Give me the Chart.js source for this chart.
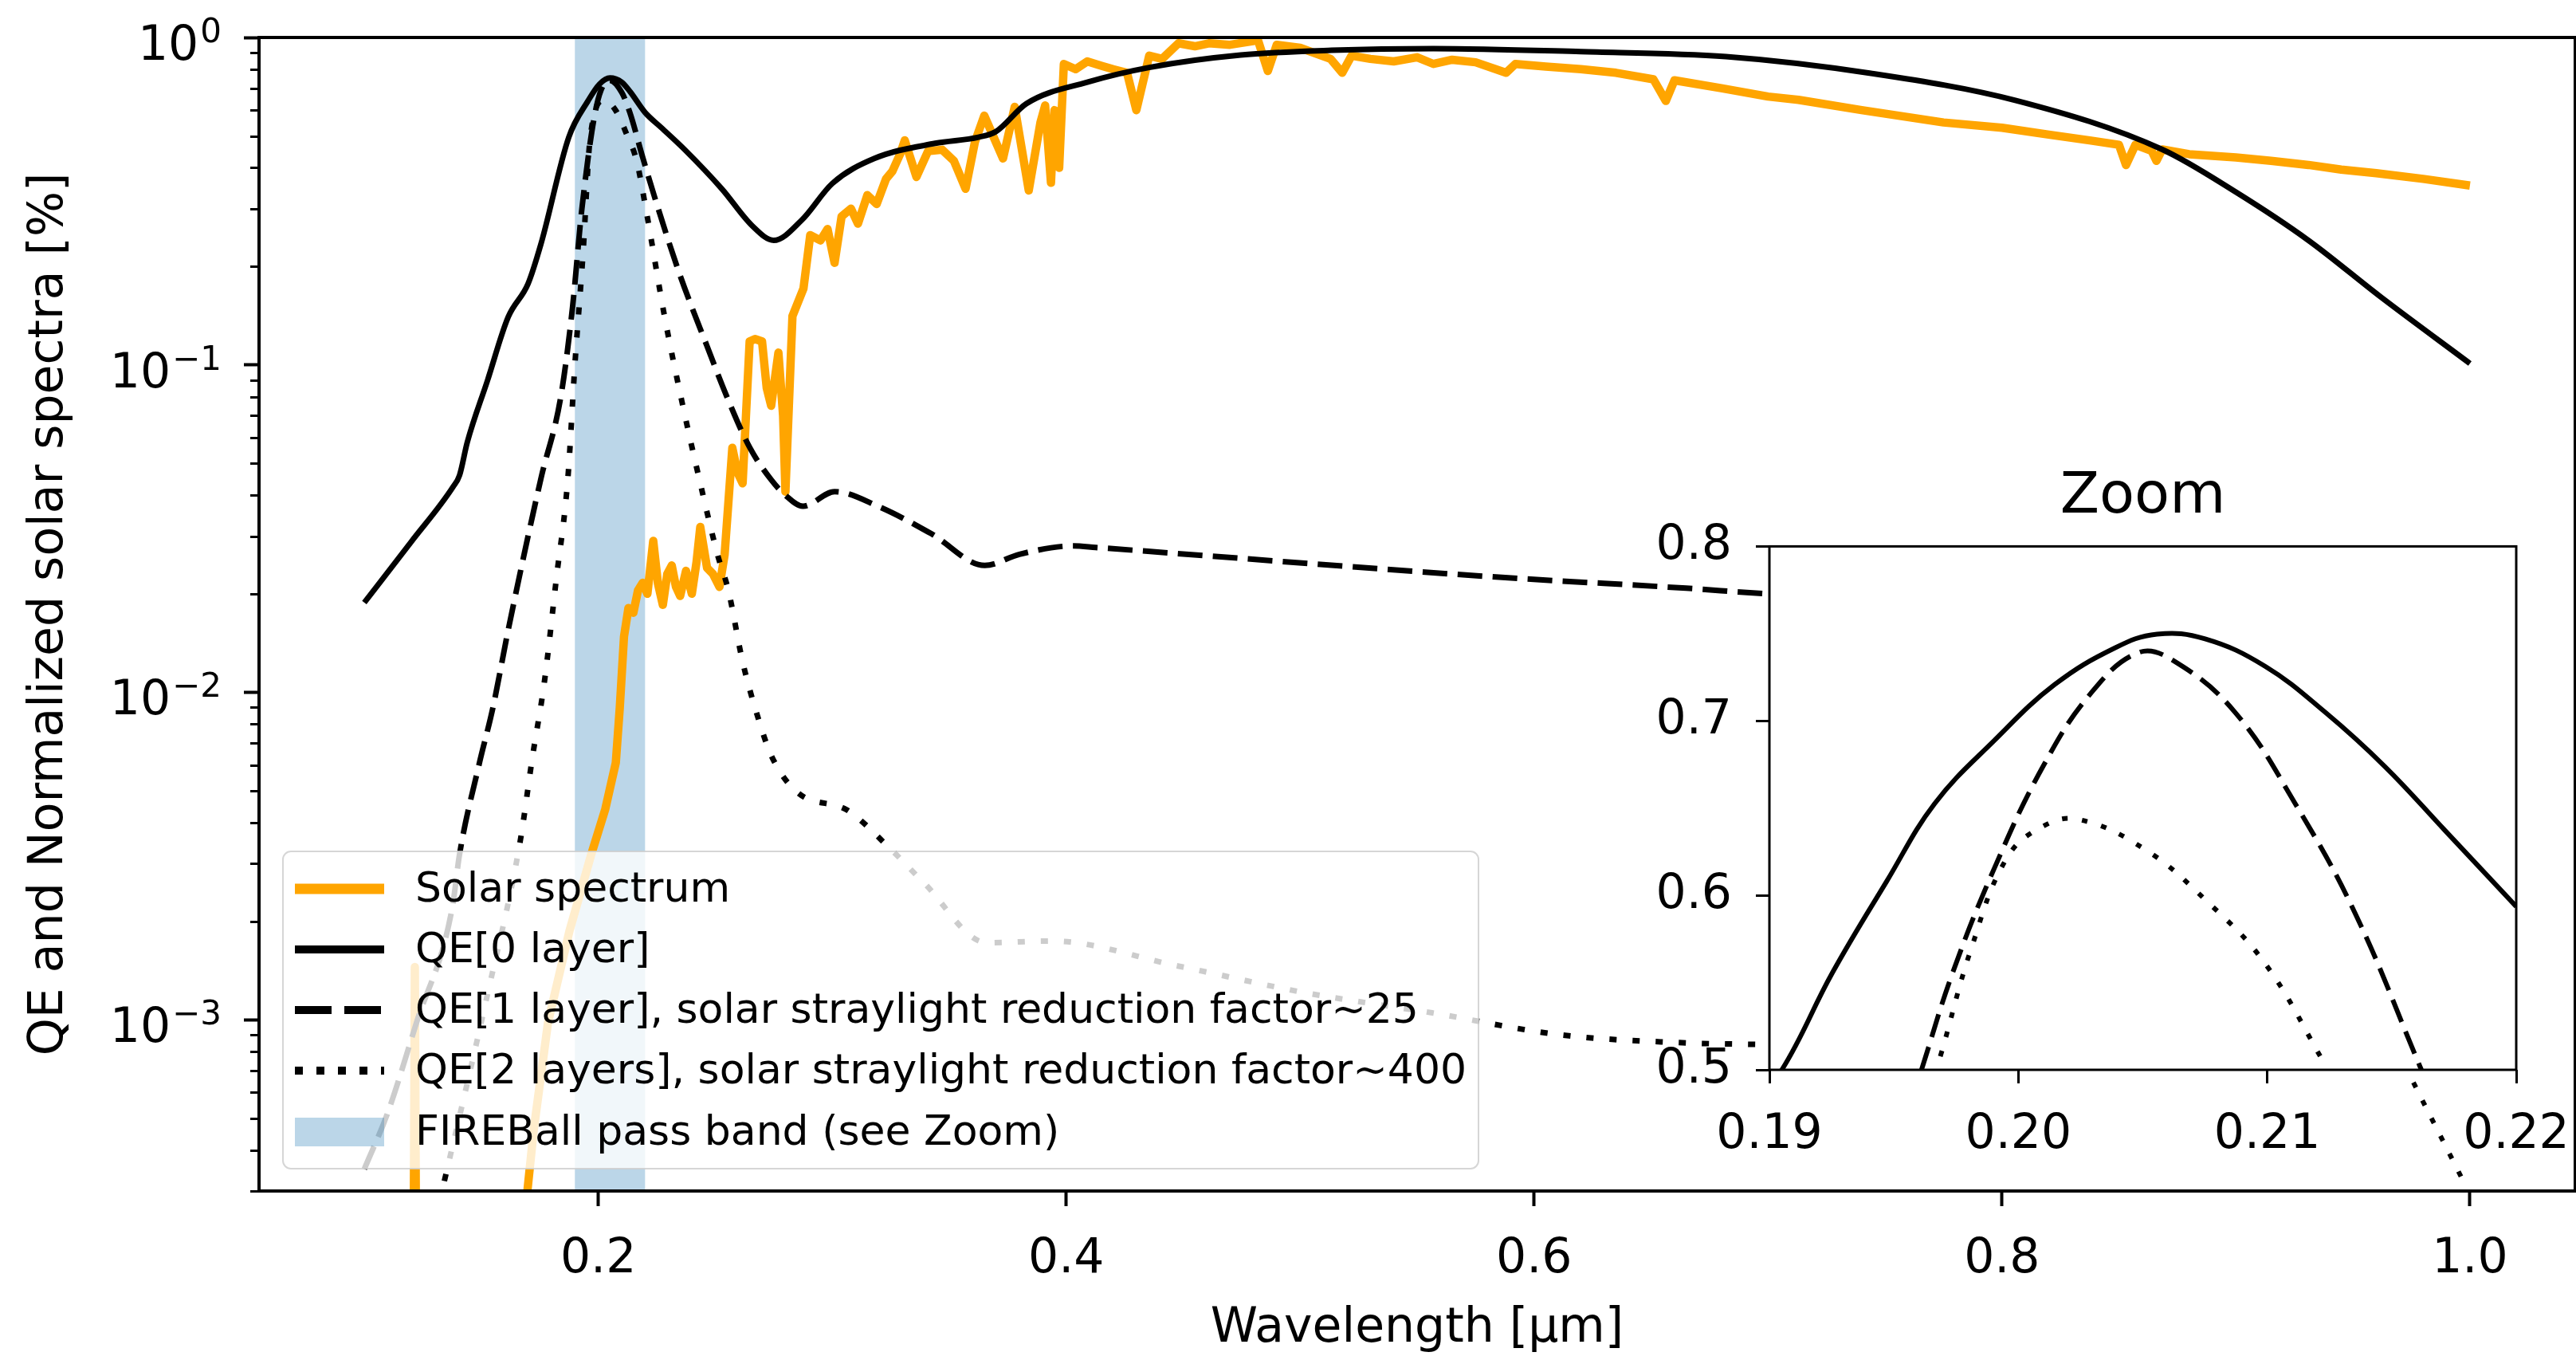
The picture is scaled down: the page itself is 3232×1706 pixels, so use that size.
<!DOCTYPE html>
<html><head><meta charset="utf-8">
<script src="https://cdn.jsdelivr.net/npm/chart.js@4.4.1/dist/chart.umd.min.js"></script>
<style>
html,body{margin:0;padding:0;background:#fff;overflow:hidden;width:3232px;height:1706px;}
#main{position:absolute;left:0;top:0;width:3232px;height:1706px;}
#inset{position:absolute;left:2040px;top:540px;width:1297px;height:950px;}
</style></head><body>
<canvas id="main" width="3232" height="1706"></canvas>
<canvas id="inset" width="1297" height="950"></canvas>
<script>
// ---------------- data ----------------
const solarWl = [0.100,0.1195,0.1211,0.1216,0.1221,0.1237,0.150,0.165,0.1697,0.1724,0.1785,0.1877,0.197,0.203,0.2075,0.2092,0.2110,0.2129,0.2150,0.2170,0.2190,0.2210,0.2235,0.2255,0.2276,0.2295,0.2314,0.2332,0.2350,0.2375,0.2400,0.2420,0.2436,0.2465,0.2490,0.2518,0.2540,0.2573,0.2595,0.2617,0.2647,0.2670,0.2700,0.2720,0.2739,0.2770,0.2790,0.2800,0.2830,0.2877,0.2906,0.2950,0.2980,0.3010,0.3040,0.3080,0.3110,0.3150,0.3190,0.3230,0.3257,0.3290,0.3310,0.3360,0.3410,0.3470,0.3520,0.3570,0.3610,0.3650,0.3730,0.3780,0.3840,0.3890,0.3910,0.3935,0.3950,0.3970,0.3990,0.4040,0.4090,0.4150,0.4200,0.4260,0.4300,0.4355,0.4410,0.4480,0.4550,0.4610,0.4700,0.4820,0.4862,0.4900,0.5000,0.5130,0.5180,0.5220,0.5300,0.5400,0.5500,0.5570,0.5650,0.5750,0.5880,0.5920,0.6050,0.6200,0.6350,0.6510,0.6563,0.6600,0.6800,0.7000,0.7130,0.7400,0.7750,0.8000,0.8200,0.8375,0.8500,0.8530,0.8570,0.8640,0.8660,0.8685,0.8800,0.9000,0.9150,0.9310,0.9450,0.9600,0.9800,1.0000];
const solarVal = [1e-6,1e-6,2e-4,1.45e-3,2e-4,1e-6,1e-6,1.5e-4,3.0e-4,4.6e-4,9.8e-4,1.87e-3,3.2e-3,4.4e-3,6.1e-3,9.0e-3,0.0148,0.0181,0.0175,0.0205,0.0216,0.0200,0.0290,0.0215,0.0185,0.0230,0.0244,0.0210,0.0197,0.0235,0.0200,0.0250,0.0320,0.0240,0.0230,0.0210,0.0263,0.0558,0.0470,0.0435,0.1180,0.1200,0.1180,0.0850,0.0750,0.1090,0.0700,0.0410,0.1410,0.1710,0.2490,0.2400,0.2600,0.2050,0.2840,0.3000,0.2700,0.3300,0.3100,0.3700,0.3900,0.4400,0.4850,0.3750,0.4500,0.4540,0.4200,0.3450,0.4800,0.5770,0.4270,0.6140,0.3410,0.5500,0.6200,0.3600,0.6000,0.4000,0.8300,0.8000,0.8450,0.8200,0.8000,0.7800,0.6000,0.8800,0.8600,0.9600,0.9400,0.9600,0.9500,0.9800,0.7900,0.9500,0.9300,0.8600,0.7800,0.8800,0.8600,0.8450,0.8700,0.8300,0.8550,0.8400,0.7800,0.8300,0.8150,0.8000,0.7800,0.7450,0.6400,0.7400,0.7000,0.6600,0.6450,0.6000,0.5500,0.5300,0.5050,0.4850,0.4700,0.4080,0.4700,0.4500,0.4200,0.4550,0.4400,0.4300,0.4200,0.4080,0.3950,0.3850,0.3700,0.3530];

const qe0Wl  = [0.100,0.120,0.138,0.1407,0.144,0.1526,0.1615,0.170,0.1755,0.1874,0.1956,0.2005,0.2050,0.2100,0.2136,0.2200,0.2270,0.2370,0.2528,0.2658,0.2750,0.2870,0.3000,0.3180,0.3440,0.3625,0.3700,0.3830,0.4090,0.4355,0.4746,0.5135,0.5570,0.6200,0.6820,0.7440,0.8060,0.8685,0.9000,0.9310,0.9620,1.0000];
const qe0Val = [0.0188,0.0288,0.0425,0.046,0.058,0.0894,0.140,0.177,0.234,0.496,0.640,0.720,0.752,0.730,0.683,0.590,0.530,0.454,0.345,0.266,0.240,0.277,0.358,0.427,0.475,0.496,0.516,0.628,0.730,0.810,0.884,0.914,0.925,0.905,0.874,0.777,0.642,0.455,0.337,0.240,0.161,0.101];

const qe1Wl  = [0.100,0.110,0.1223,0.1376,0.1407,0.149,0.155,0.1615,0.1755,0.184,0.189,0.193,0.1993,0.2048,0.2100,0.2135,0.2190,0.2250,0.2347,0.2463,0.2556,0.2647,0.2740,0.2800,0.2875,0.3010,0.3196,0.3424,0.3652,0.3800,0.4030,0.4126,0.5020,0.5837,0.6650,0.7000,0.7600];
const qe1Val = [3.5e-4,5.2e-4,9.8e-4,2.2e-3,3.2e-3,6.0e-3,9.0e-3,0.0155,0.045,0.080,0.150,0.300,0.620,0.740,0.680,0.590,0.430,0.310,0.190,0.115,0.078,0.056,0.0445,0.0400,0.0370,0.0410,0.0370,0.0305,0.0244,0.0264,0.0280,0.0277,0.0248,0.0225,0.0208,0.0200,0.0193];

const qe2Wl  = [0.100,0.120,0.135,0.1527,0.1666,0.1718,0.177,0.182,0.187,0.190,0.1935,0.1965,0.2025,0.2075,0.2123,0.2164,0.2207,0.2283,0.2358,0.2436,0.2510,0.2556,0.2617,0.2680,0.2740,0.2848,0.3066,0.3230,0.3390,0.3660,0.3935,0.4477,0.5020,0.5564,0.6110,0.6650,0.7000,0.7600];
const qe2Val = [3e-5,1.2e-4,3.4e-4,1.2e-3,3.5e-3,6.3e-3,0.0108,0.022,0.045,0.100,0.220,0.490,0.643,0.598,0.503,0.420,0.290,0.141,0.077,0.0435,0.0263,0.0205,0.0124,0.0085,0.0064,0.00497,0.00436,0.00343,0.00263,0.00172,0.00174,0.00146,0.00121,0.00105,0.00090,0.00085,0.00084,0.00082];

const passBand = [0.19, 0.22];

const zoomQe0Wl  = [0.1900,0.1905,0.19253,0.19471,0.19664,0.19905,0.20146,0.20388,0.20557,0.2075,0.20991,0.21232,0.21474,0.21715,0.2200];
const zoomQe0Val = [0.4975,0.5000,0.5556,0.6080,0.6526,0.6890,0.7208,0.7418,0.7497,0.7470,0.7313,0.7050,0.6736,0.6370,0.5936];
const zoomQe1Wl  = [0.19611,0.19736,0.19905,0.20098,0.2029,0.20484,0.20629,0.2087,0.21112,0.21353,0.21619];
const zoomQe1Val = [0.5000,0.5556,0.6160,0.6736,0.7156,0.7392,0.7340,0.7050,0.6526,0.5897,0.5000];
const zoomQe2Wl  = [0.1966,0.19688,0.19809,0.19953,0.20098,0.20243,0.20508,0.2075,0.20991,0.21232];
const zoomQe2Val = [0.4970,0.5084,0.5687,0.6212,0.6395,0.6435,0.6264,0.5976,0.5610,0.5031];
const zoomSpillWl  = [0.21587,0.21801];
const zoomSpillVal = [0.4927,0.4324];

const xTickValues = [0.2,0.4,0.6,0.8,1.0];
const yTickValues = [1e-3,1e-2,1e-1,1];
const yTickExponents = ['\u22123','\u22122','\u22121','0'];
const zoomXTicks = [0.19,0.20,0.21,0.22];
const zoomYTicks = [0.5,0.6,0.7,0.8];

const seriesLabels = ['Solar spectrum','QE[0 layer]','QE[1 layer], solar straylight reduction factor~25','QE[2 layers], solar straylight reduction factor~400'];
const bandLabel = 'FIREBall pass band (see Zoom)';

// ---------------- styles ----------------
const FONT = 'DejaVu Sans';
const ORANGE = '#FFA500';
const BAND = 'rgba(31,119,180,0.3)';
Chart.defaults.font.family = FONT;
Chart.defaults.color = '#000';

const toXY = (xs, ys) => xs.map((x, i) => ({x: x, y: ys[i]}));

// --------------- main chart plugins --------------
const bandPlugin = {
  id: 'band',
  beforeDatasetsDraw(chart) {
    const {ctx, chartArea: a, scales: {x}} = chart;
    const x0 = x.getPixelForValue(passBand[0]), x1 = x.getPixelForValue(passBand[1]);
    ctx.save(); ctx.fillStyle = BAND; ctx.fillRect(x0, a.top, x1 - x0, a.bottom - a.top); ctx.restore();
  }
};
function roundRect(ctx, x, y, w, h, r) {
  ctx.beginPath();
  ctx.moveTo(x + r, y); ctx.lineTo(x + w - r, y); ctx.arcTo(x + w, y, x + w, y + r, r);
  ctx.lineTo(x + w, y + h - r); ctx.arcTo(x + w, y + h, x + w - r, y + h, r);
  ctx.lineTo(x + r, y + h); ctx.arcTo(x, y + h, x, y + h - r, r);
  ctx.lineTo(x, y + r); ctx.arcTo(x, y, x + r, y, r); ctx.closePath();
}
const legendPlugin = {
  id: 'mplLegend',
  afterDatasetsDraw(chart) {
    const ctx = chart.ctx;
    const bx = 355, by = 1068, bw = 1500, bh = 398;
    ctx.save();
    roundRect(ctx, bx, by, bw, bh, 10);
    ctx.fillStyle = 'rgba(255,255,255,0.8)'; ctx.fill();
    ctx.lineWidth = 2; ctx.strokeStyle = 'rgba(204,204,204,0.8)'; ctx.stroke();
    const rows = [1115, 1191, 1267, 1343, 1420];
    const hx0 = 370, hx1 = 482, tx = 521;
    const handleStyles = [
      {w: 13, dash: []}, {w: 10, dash: []}, {w: 10, dash: [46, 16]}, {w: 10, dash: [10, 17]}
    ];
    ctx.font = '52px "' + FONT + '"';
    ctx.textBaseline = 'middle';
    chart.data.datasets.forEach((ds, i) => {
      const y = rows[i], st = handleStyles[i];
      ctx.beginPath(); ctx.setLineDash(st.dash); ctx.lineWidth = st.w; ctx.lineCap = 'butt';
      ctx.strokeStyle = ds.borderColor; ctx.moveTo(hx0, y); ctx.lineTo(hx1, y); ctx.stroke();
      ctx.setLineDash([]);
      ctx.fillStyle = '#000'; ctx.fillText(ds.label, tx, y + 2);
    });
    ctx.fillStyle = BAND; ctx.fillRect(hx0, rows[4] - 18, hx1 - hx0, 36);
    ctx.fillStyle = '#000'; ctx.fillText(bandLabel, tx, rows[4] + 2);
    ctx.restore();
  }
};
const framePlugin = {
  id: 'frame',
  afterDraw(chart) {
    const {ctx, chartArea: a, scales: {y}} = chart;
    ctx.save();
    ctx.strokeStyle = '#000'; ctx.lineWidth = 4;
    ctx.strokeRect(a.left, a.top, a.right - a.left, a.bottom - a.top);
    // minor log ticks
    ctx.lineWidth = 3;
    for (let k = -4; k <= 0; k++) {
      for (let m = 2; m <= 9; m++) {
        const v = m * Math.pow(10, k);
        if (v < y.min || v > y.max) continue;
        const py = Math.round(y.getPixelForValue(v)) + 0.5;
        ctx.beginPath(); ctx.moveTo(a.left, py); ctx.lineTo(a.left - 11, py); ctx.stroke();
      }
    }
    // y tick labels in mathtext style: 10 with superscript exponent
    ctx.fillStyle = '#000';
    ctx.textBaseline = 'alphabetic';
    ctx.textAlign = 'right';
    const rightX = a.left - 19 - 28;
    yTickValues.forEach((v, i) => {
      const py = y.getPixelForValue(v);
      ctx.font = '42px "' + FONT + '"';
      const ew = ctx.measureText(yTickExponents[i]).width;
      ctx.fillText(yTickExponents[i], rightX, py + 6);
      ctx.font = '60px "' + FONT + '"';
      ctx.fillText('10', rightX - ew - 2, py + 28);
    });
    ctx.restore();
  }
};

const mainChart = new Chart(document.getElementById('main'), {
  type: 'line',
  data: {
    datasets: [
      {label: seriesLabels[0], data: toXY(solarWl, solarVal), borderColor: ORANGE, borderWidth: 10.5, tension: 0, order: 4},
      {label: seriesLabels[1], data: toXY(qe0Wl, qe0Val), borderColor: '#000', borderWidth: 7, cubicInterpolationMode: 'monotone', order: 3},
      {label: seriesLabels[2], data: toXY(qe1Wl, qe1Val), borderColor: '#000', borderWidth: 7, borderDash: [31, 13], cubicInterpolationMode: 'monotone', order: 2},
      {label: seriesLabels[3], data: toXY(qe2Wl, qe2Val), borderColor: '#000', borderWidth: 7, borderDash: [9, 20], cubicInterpolationMode: 'monotone', order: 1}
    ]
  },
  options: {
    responsive: false, animation: false, devicePixelRatio: 1,
    layout: {padding: {top: 47, right: 1, left: 0, bottom: 0}},
    elements: {point: {radius: 0}, line: {borderCapStyle: 'butt', borderJoinStyle: 'round'}},
    plugins: {legend: {display: false}, tooltip: {enabled: false}},
    scales: {
      x: {
        type: 'linear', min: 0.055, max: 1.045,
        afterBuildTicks: s => { s.ticks = xTickValues.map(v => ({value: v})); },
        afterFit: s => { s.height = 212; },
        ticks: {autoSkip: false, maxRotation: 0, padding: 31, font: {size: 60}, callback: v => Number(v).toFixed(1)},
        grid: {drawOnChartArea: false, drawTicks: true, tickLength: 19, tickWidth: 4, tickColor: '#000'},
        border: {display: false},
        title: {display: true, text: 'Wavelength [\u03BCm]', font: {size: 60}, padding: {top: 0, bottom: 3}}
      },
      y: {
        type: 'logarithmic', min: 3e-4, max: 1,
        afterBuildTicks: s => { s.ticks = yTickValues.map(v => ({value: v})); },
        afterFit: s => { s.width = 325; },
        ticks: {display: false},
        grid: {drawOnChartArea: false, drawTicks: true, tickLength: 19, tickWidth: 4, tickColor: '#000'},
        border: {display: false},
        title: {display: true, text: 'QE and Normalized solar spectra [%]', font: {size: 60}, padding: {top: 26, bottom: 0}}
      }
    }
  },
  plugins: [bandPlugin, legendPlugin, framePlugin]
});

// --------------- inset chart --------------
const insetBgPlugin = {
  id: 'insetBg',
  beforeDatasetsDraw(chart) {
    const {ctx, chartArea: a} = chart;
    ctx.save(); ctx.fillStyle = '#fff'; ctx.fillRect(a.left, a.top, a.right - a.left, a.bottom - a.top); ctx.restore();
  },
  afterDraw(chart) {
    const {ctx, chartArea: a} = chart;
    ctx.save(); ctx.strokeStyle = '#000'; ctx.lineWidth = 3;
    ctx.strokeRect(a.left, a.top, a.right - a.left, a.bottom - a.top); ctx.restore();
  }
};
const insetChart = new Chart(document.getElementById('inset'), {
  type: 'line',
  data: {
    datasets: [
      {label: 'QE[0 layer]', data: toXY(zoomQe0Wl, zoomQe0Val), borderColor: '#000', borderWidth: 6, tension: 0.4},
      {label: 'QE[1 layer]', data: toXY(zoomQe1Wl, zoomQe1Val), borderColor: '#000', borderWidth: 6, borderDash: [30, 13], tension: 0.4},
      {label: 'QE[2 layers]', data: toXY(zoomQe2Wl, zoomQe2Val), borderColor: '#000', borderWidth: 6, borderDash: [7, 18], tension: 0.4},
      {label: 'overflow', data: toXY(zoomSpillWl, zoomSpillVal), borderColor: '#000', borderWidth: 6, borderDash: [7, 18], clip: false}
    ]
  },
  options: {
    responsive: false, animation: false, devicePixelRatio: 1,
    layout: {padding: 0},
    elements: {point: {radius: 0}, line: {borderCapStyle: 'butt'}},
    plugins: {
      legend: {display: false}, tooltip: {enabled: false},
      title: {display: true, text: 'Zoom', font: {size: 72, weight: 'normal'}, padding: {top: 41, bottom: 18}, color: '#000'}
    },
    scales: {
      x: {
        type: 'linear', min: 0.19, max: 0.22,
        afterBuildTicks: s => { s.ticks = zoomXTicks.map(v => ({value: v})); },
        afterFit: s => { s.height = 148; },
        ticks: {autoSkip: false, maxRotation: 0, padding: 29, font: {size: 60}, callback: v => Number(v).toFixed(2)},
        grid: {drawOnChartArea: false, drawTicks: true, tickLength: 17, tickWidth: 3, tickColor: '#000'},
        border: {display: false}
      },
      y: {
        type: 'linear', position: 'left', min: 0.5, max: 0.8,
        afterBuildTicks: s => { s.ticks = zoomYTicks.map(v => ({value: v})); },
        afterFit: s => { s.width = 180; },
        ticks: {autoSkip: false, padding: 30, font: {size: 60}, callback: v => Number(v).toFixed(1)},
        grid: {drawOnChartArea: false, drawTicks: true, tickLength: 17, tickWidth: 3, tickColor: '#000'},
        border: {display: false}
      },
      yRight: {
        type: 'linear', position: 'right', min: 0.5, max: 0.8,
        afterFit: s => { s.width = 180; },
        ticks: {display: false},
        grid: {display: false},
        border: {display: false}
      }
    }
  },
  plugins: [insetBgPlugin]
});
</script></body></html>
